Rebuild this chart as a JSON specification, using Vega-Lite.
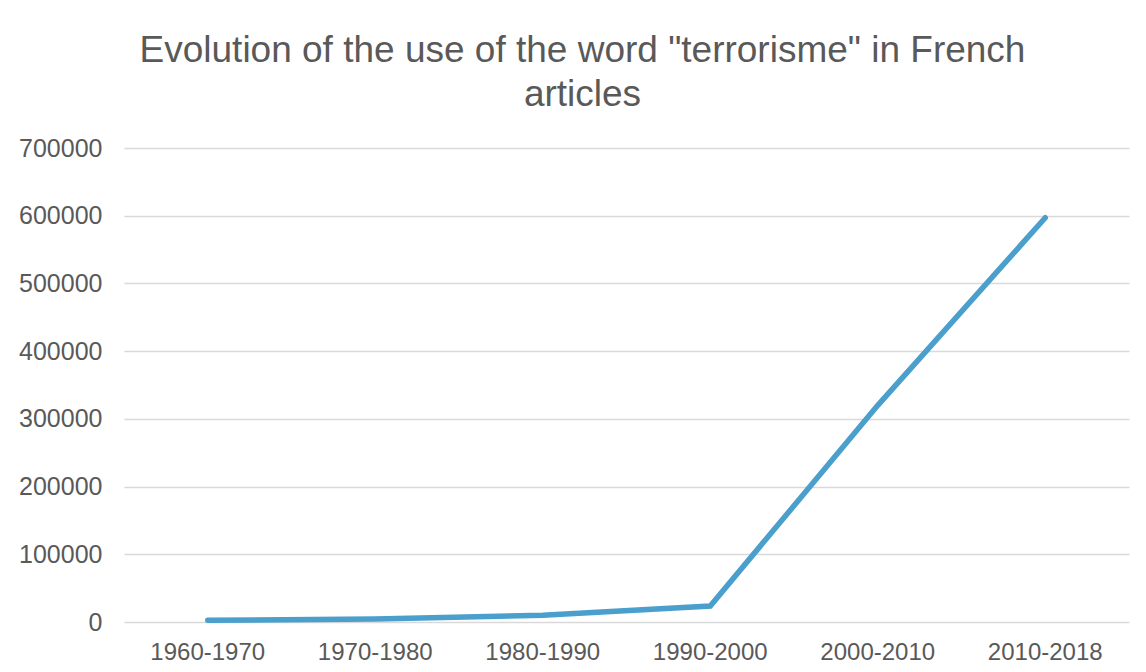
{
  "$schema": "https://vega.github.io/schema/vega-lite/v6.json",
  "width": 1005,
  "height": 474,
  "autosize": {"type": "none"},
  "padding": {"left": 124, "top": 148, "right": 17, "bottom": 50},
  "background": "white",
  "title": {
    "text": ["Evolution of the use of the word \"terrorisme\" in French", "articles"],
    "font": "Liberation Sans",
    "fontSize": 37,
    "fontWeight": "normal",
    "color": "#595959",
    "lineHeight": 44,
    "anchor": "middle",
    "dx": -44,
    "offset": 22
  },
  "data": {
    "values": [
      {"period": "1960-1970", "count": 2500},
      {"period": "1970-1980", "count": 4500},
      {"period": "1980-1990", "count": 10000},
      {"period": "1990-2000", "count": 23500},
      {"period": "2000-2010", "count": 320000},
      {"period": "2010-2018", "count": 597000}
    ]
  },
  "mark": {"type": "line", "color": "#4a9fcc", "strokeWidth": 5.5, "strokeCap": "round", "strokeJoin": "miter"},
  "encoding": {
    "x": {
      "field": "period",
      "type": "ordinal",
      "sort": null,
      "scale": {"type": "band", "paddingInner": 0, "paddingOuter": 0},
      "axis": {
        "title": null,
        "labelAngle": 0,
        "domain": false,
        "ticks": false,
        "grid": false,
        "labelFont": "Liberation Sans",
        "labelFontSize": 24,
        "labelColor": "#595959",
        "labelPadding": 18
      }
    },
    "y": {
      "field": "count",
      "type": "quantitative",
      "scale": {"domain": [0, 700000], "nice": false},
      "axis": {
        "title": null,
        "values": [0, 100000, 200000, 300000, 400000, 500000, 600000, 700000],
        "format": "d",
        "domain": false,
        "ticks": false,
        "grid": true,
        "gridColor": "#d9d9d9",
        "gridWidth": 1.5,
        "labelFont": "Liberation Sans",
        "labelFontSize": 25,
        "labelColor": "#595959",
        "labelPadding": 22
      }
    }
  },
  "config": {"view": {"stroke": null}}
}
